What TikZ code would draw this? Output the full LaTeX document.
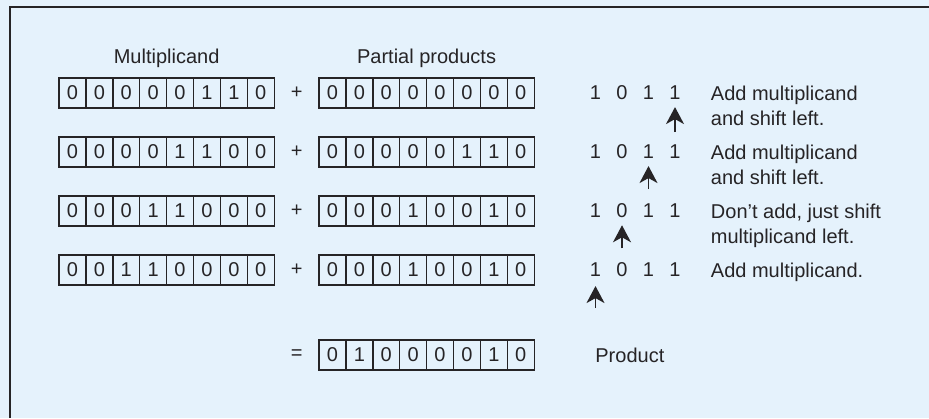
\documentclass[tikz,border=0pt]{standalone}
\usepackage{fontspec}
\setmainfont{Liberation Sans}
\usepackage{xcolor}
\usetikzlibrary{positioning, calc, arrows.meta}

\definecolor{panelbg}{RGB}{229,242,252}
\definecolor{ink}{RGB}{38,36,38}

% one 8-bit register: name, left edge x, centre y, bits
\newcommand{\regrow}[4]{%
  \foreach \b [count=\i] in {#4}
    \node[cell] (#1-\i) at (#2+26.9*\i-13.45, #3) {\b};
}

\begin{document}
\begin{tikzpicture}[
    x=1pt, y=1pt,
    font=\fontsize{20}{25}\selectfont, text=ink,
    cell/.style={rectangle, draw=ink, line width=1.4pt, outer sep=0pt, inner sep=0pt, minimum width=26.9pt, minimum height=30pt, fill=panelbg},
    bit/.style={inner sep=0pt},
    title/.style={inner sep=0pt},
    note/.style={inner sep=0pt, align=left},
    pointer/.style={draw=ink, line width=1.6pt, -{Stealth[length=17pt, width=18pt, inset=5pt]}, shorten >=7pt}
  ]

  \fill[panelbg] (0,0) rectangle (929,418);
  \useasboundingbox (0,0) rectangle (929,418);
  \draw[ink, line width=2.2pt] (10,0) -- (10,411) -- (929,411);

  % registers
  \regrow{mc1}{59}{325}{0,0,0,0,0,1,1,0}
  \regrow{pp1}{319}{325}{0,0,0,0,0,0,0,0}
  \regrow{mc2}{59}{266}{0,0,0,0,1,1,0,0}
  \regrow{pp2}{319}{266}{0,0,0,0,0,1,1,0}
  \regrow{mc3}{59}{207}{0,0,0,1,1,0,0,0}
  \regrow{pp3}{319}{207}{0,0,0,1,0,0,1,0}
  \regrow{mc4}{59}{148}{0,0,1,1,0,0,0,0}
  \regrow{pp4}{319}{148}{0,0,0,1,0,0,1,0}
  \regrow{prod}{319}{63}{0,1,0,0,0,0,1,0}

  \node[title] (mclabel) [above=10pt of mc1-4.north east] {Multiplicand};
  \node[title] (pplabel) [above=10pt of pp1-4.north east] {Partial products};

  \foreach \r in {1,2,3,4}
    \node[bit] (plus\r) at ($(mc\r-8.east)!0.5!(pp\r-1.west)$) {+};
  \node[bit] (equals) at (plus4 |- prod-1) {=};

  % multiplier bits
  \foreach \r/\y in {1/325, 2/266, 3/207, 4/148}
    \foreach \b [count=\i] in {1,0,1,1}
      \node[bit] (q\r-\i) at (569+26.5*\i, \y) {\b};

  \node[note, right=30pt of q1-4.north east, anchor=north west] (n1) {Add multiplicand\\and shift left.};
  \node[note, right=30pt of q2-4.north east, anchor=north west] (n2) {Add multiplicand\\and shift left.};
  \node[note, right=30pt of q3-4.north east, anchor=north west] (n3) {Don’t add, just shift\\multiplicand left.};
  \node[note, right=30pt of q4-4.north east, anchor=north west] (n4) {Add multiplicand.};
  \node[note, right=61pt of prod-8] (prodlabel) {Product};

  \coordinate[below=32pt of q1-4] (t1);
  \coordinate[below=30pt of q2-3] (t2);
  \coordinate[below=30pt of q3-2] (t3);
  \coordinate[below=31pt of q4-1] (t4);

  \draw[pointer] (t1) -- (q1-4);
  \draw[pointer] (t2) -- (q2-3);
  \draw[pointer] (t3) -- (q3-2);
  \draw[pointer, shorten >=9pt] (t4) -- (q4-1);

\end{tikzpicture}
\end{document}
